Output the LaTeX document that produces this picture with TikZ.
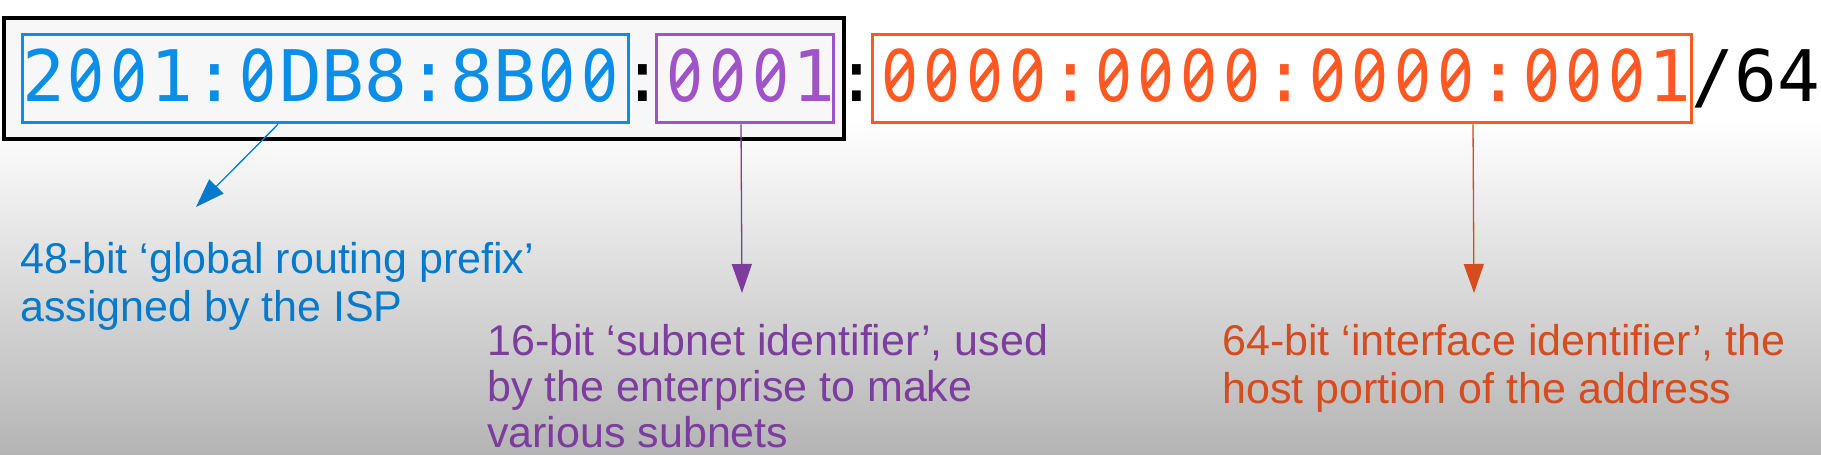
\documentclass[tikz,border=0pt]{standalone}
\usepackage{fontspec}
\usepackage{graphicx}
\setmainfont{Liberation Sans}
\newfontfamily\addrmono{DejaVu Sans Mono}
\newfontfamily\zerofont{DejaVu Sans}
\usetikzlibrary{arrows.meta,calc}
\definecolor{boxblue}{RGB}{10,142,232}
\definecolor{boxpurple}{RGB}{160,82,200}
\definecolor{boxorange}{RGB}{255,88,34}
\definecolor{lblblue}{RGB}{5,122,204}
\definecolor{lblpurple}{RGB}{125,60,158}
\definecolor{lblorange}{RGB}{215,76,30}
\definecolor{bggray}{RGB}{180,180,180}
% slashed zero in a monospace cell
\newcommand\zz{\makebox[0.60205em][c]{\zerofont\scalebox{0.82}[1]{0}}\hspace{-0.60205em}\makebox[0.60205em][c]{\raisebox{0.37em}{\rotatebox[origin=c]{52}{\rule[-0.037em]{0.43em}{0.074em}}}}}
\begin{document}
\begin{tikzpicture}[x=1pt,y=-1pt,
  addr/.style={inner sep=0pt,anchor=base west,font=\addrmono\fontsize{71.1}{80}\selectfont},
  segbox/.style={draw,line width=3pt,anchor=north west,minimum height=88.3pt,inner sep=0pt},
  lbl/.style={inner sep=0pt,anchor=base west,align=left,font=\fontsize{43}{48}\selectfont},
  conn/.style={line width=1.3pt,-{Triangle[length=29pt,width=20pt]}}]
\useasboundingbox (0,0) rectangle (1821,455);
\fill[white] (0,0) rectangle (1821,121);
\shade[top color=white,bottom color=bggray] (0,120) rectangle (1821,455);
% outer frame
\node[draw=black,line width=4pt,fill=white!97!black,anchor=north west,minimum width=840pt,minimum height=121pt,inner sep=0pt] (frame) at (2,15.5) {};
% segment boxes
\node[segbox,draw=boxblue,minimum width=605.8pt] (bb) at (20.7,33) {};
\node[segbox,draw=boxpurple,minimum width=176.7pt] (pb) at (655.3,33) {};
\node[segbox,draw=boxorange,minimum width=818.7pt] (ob) at (871.3,33) {};
% address text
\node[addr,text=boxblue] (t1) at (22,101) {2\zz\zz1:\zz DB8:8B\zz\zz};
\node[addr,text=black] (c1) at (621.2,101) {:};
\node[addr,text=boxpurple] (t2) at (663.9,101) {\zz\zz\zz1};
\node[addr,text=black] (c2) at (835.2,101) {:};
\node[addr,text=boxorange] (t3) at (878,101) {\zz\zz\zz\zz:\zz\zz\zz\zz:\zz\zz\zz\zz:\zz\zz\zz1};
\node[addr,text=black] (sl) at (1691.2,101) {/64};
% labels (anchored at the baseline of the last line)
\node[lbl,text=lblblue] (lb) at (20,321) {48-bit ‘global routing prefix’\\assigned by the ISP};
\node[lbl,text=lblpurple,font=\fontsize{43}{46}\selectfont] (lp) at (487,447) {16-bit ‘subnet identifier’, used\\by the enterprise to make\\various subnets};
\node[lbl,text=lblorange] (lo) at (1222,403) {64-bit ‘interface identifier’, the\\host portion of the address};
% arrow tips
\coordinate (tb) at (196,207);
\coordinate (tp) at (742,293);
\coordinate (to) at (1474,293);
\draw[conn,draw=lblblue,fill=lblblue] ($(bb.south west)+(257.3,0)$) -- (tb);
\draw[conn,draw=lblpurple,fill=lblpurple] ($(pb.south west)+(85.7,0)$) -- (tp);
\draw[conn,draw=lblorange,fill=lblorange] ($(ob.south west)+(601.7,0)$) -- (to);
\end{tikzpicture}
\end{document}
